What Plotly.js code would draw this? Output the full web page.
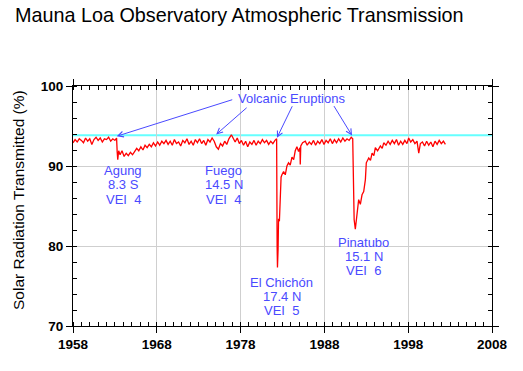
<!DOCTYPE html>
<html>
<head>
<meta charset="utf-8">
<script src="https://cdn.plot.ly/plotly-3.0.1.min.js"></script>
<style>html,body{margin:0;padding:0;background:#fff;}#chart{width:523px;height:371px;}</style>
</head>
<body>
<div id="chart"></div>
<script>
// ---- data ----
const years = [
1958.00,1958.25,1958.50,1958.75,1959.00,1959.25,1959.50,1959.75,1960.00,1960.25,1960.50,1960.75,
1961.00,1961.25,1961.50,1961.75,1962.00,1962.25,1962.50,1962.75,1963.00,1963.20,1963.27,1963.34,
1963.45,1963.62,1963.85,1964.10,1964.35,1964.60,1964.85,1965.10,1965.35,1965.60,1965.85,1966.10,
1966.35,1966.60,1966.85,1967.10,1967.35,1967.60,1967.85,1968.10,1968.35,1968.60,1968.85,1969.10,
1969.35,1969.60,1969.85,1970.10,1970.35,1970.60,1970.85,1971.10,1971.35,1971.60,1971.85,1972.10,
1972.35,1972.60,1972.85,1973.10,1973.35,1973.60,1973.85,1974.10,1974.35,1974.60,1974.85,1975.10,
1975.35,1975.60,1975.85,1976.10,1976.35,1976.60,1976.90,1977.10,1977.35,1977.60,1977.85,1978.10,
1978.35,1978.60,1978.85,1979.10,1979.35,1979.60,1979.85,1980.10,1980.35,1980.60,1980.85,1981.10,
1981.35,1981.60,1981.85,1982.10,1982.30,1982.36,1982.40,1982.47,1982.53,1982.63,1982.73,1982.83,
1982.93,1983.13,1983.33,1983.53,1983.72,1983.92,1984.13,1984.33,1984.52,1984.72,1984.92,1985.08,
1985.12,1985.18,1985.40,1985.72,1985.95,1986.20,1986.45,1986.70,1986.95,1987.20,1987.45,1987.70,
1987.95,1988.20,1988.45,1988.70,1988.95,1989.20,1989.45,1989.70,1989.95,1990.20,1990.45,1990.70,
1990.95,1991.20,1991.38,1991.45,1991.55,1991.69,1991.80,1991.90,1992.09,1992.29,1992.49,1992.69,
1992.89,1993.00,1993.29,1993.50,1993.69,1993.90,1994.08,1994.35,1994.68,1994.90,1995.08,1995.35,
1995.60,1995.85,1996.10,1996.35,1996.60,1996.85,1997.10,1997.35,1997.60,1997.85,1998.06,1998.30,
1998.55,1998.80,1999.05,1999.26,1999.45,1999.70,1999.95,2000.20,2000.45,2000.70,2000.95,2001.20,
2001.45,2001.70,2001.95,2002.20,2002.44
];
const transmission = [
92.9,93.3,93.0,93.4,93.2,92.9,93.5,93.1,93.4,92.7,93.3,93.6,
93.2,93.5,93.0,93.4,93.3,93.6,93.1,93.4,93.2,93.5,91.8,90.8,
91.9,91.4,91.9,91.2,91.6,91.3,91.7,91.4,91.8,92.2,91.9,92.4,
92.0,92.6,92.3,92.7,92.4,92.9,92.5,93.0,92.6,93.1,92.8,93.2,
92.7,93.1,92.6,93.3,92.8,93.0,92.5,93.2,92.9,93.4,92.7,93.1,
92.6,93.3,92.9,93.4,92.8,93.2,92.6,93.3,93.0,93.5,93.1,92.4,
92.1,92.8,92.5,93.1,92.7,93.4,93.9,93.4,93.0,93.5,92.8,93.2,
92.6,93.1,92.4,93.0,92.7,93.2,92.6,93.1,92.8,93.3,92.9,93.2,
92.7,93.1,92.8,93.2,93.4,79.8,77.3,79.5,83.4,83.1,87.6,88.6,
88.9,89.3,88.9,90.0,90.4,90.1,91.1,90.8,91.9,92.4,91.8,92.3,
90.2,92.5,92.9,93.1,92.6,93.0,92.7,93.2,92.6,93.1,92.8,93.3,
92.7,93.2,92.9,93.4,92.8,93.3,92.9,93.4,93.0,93.5,93.1,93.4,
93.2,93.6,93.4,88.3,83.3,82.1,83.0,84.2,85.8,85.2,86.4,86.8,
88.3,90.4,91.0,90.7,91.6,91.3,92.3,91.9,92.5,92.2,92.9,92.6,
93.1,92.7,93.2,92.8,93.3,92.6,93.1,92.7,93.2,92.8,93.5,93.0,
93.3,92.8,93.1,91.6,92.8,93.0,92.5,93.1,92.6,93.0,92.4,93.1,
92.7,93.2,92.8,93.1,92.7
];
const clearSkyLevel = 93.85;
const xTickYears = [1958, 1968, 1978, 1988, 1998, 2008];
const yTickValues = [70, 80, 90, 100];

const volcanoes = ["Agung", "Fuego", "El Chichón", "Pinatubo"];
const latitudes = ["8.3 S", "14.5 N", "17.4 N", "15.1 N"];
const vei = ["VEI\u00a0 4", "VEI\u00a0 4", "VEI\u00a0 5", "VEI\u00a0 6"];
const eruptionYears = [1963.22, 1975.08, 1982.34, 1991.30];

// ---- layout helpers (positions / styles) ----
const blue = "#4a4aff";
const fam = "Liberation Sans, Arial, sans-serif";
const headY = [93.72, 93.94, 93.53, 93.80];
const tailOffsets = [[117, -37], [32, -28], [16, -33], [-19, -31]];
const labelX = [1964.0, 1975.96, 1982.93, 1992.68];
const labelY = [[89.44, 87.63, 85.81], [89.44, 87.63, 85.81], [75.44, 73.69, 71.94], [80.50, 78.69, 76.88]];

const annotations = [];
annotations.push({
  xref: 'x', yref: 'y', x: 1958 + (291 - 73) / 8.37, y: 100 - (98.5 - 86) / 8,
  text: "Volcanic Eruptions", showarrow: false,
  font: {family: fam, size: 13, color: blue},
  xanchor: 'center', yanchor: 'middle'
});
for (let i = 0; i < volcanoes.length; i++) {
  annotations.push({
    xref: 'x', yref: 'y', x: eruptionYears[i], y: headY[i], text: "",
    showarrow: true, arrowhead: 5, arrowsize: 1.1, arrowwidth: 1, arrowcolor: blue,
    ax: tailOffsets[i][0], ay: tailOffsets[i][1], standoff: 0
  });
  const lines = [volcanoes[i], latitudes[i], vei[i]];
  for (let j = 0; j < 3; j++) {
    annotations.push({
      xref: 'x', yref: 'y', x: labelX[i], y: labelY[i][j], text: lines[j], showarrow: false,
      font: {family: fam, size: 13, color: blue},
      xanchor: 'center', yanchor: 'middle'
    });
  }
}
// y-axis title as rotated annotation
annotations.push({
  xref: 'paper', yref: 'paper', x: 0, y: (326 - 200) / 240, xshift: -55,
  text: "Solar Radiation Transmitted (%)", showarrow: false, textangle: -90,
  font: {family: fam, size: 15.5, color: "#000"},
  xanchor: 'center', yanchor: 'middle'
});

const traces = [{
  x: years, y: transmission, type: 'scatter', mode: 'lines',
  line: {color: '#ff0000', width: 1.3}, hoverinfo: 'skip'
}];

const tickFont = {family: fam, size: 13.5, color: '#000', weight: 'bold'};

const layout = {
  width: 523, height: 371,
  margin: {l: 73, r: 31, t: 86, b: 45, pad: 0},
  paper_bgcolor: '#fff', plot_bgcolor: '#fff',
  showlegend: false,
  font: {family: fam, color: '#000'},
  title: {
    text: "Mauna Loa Observatory Atmospheric Transmission",
    font: {family: fam, size: 19.8, color: '#000'},
    xref: 'container', yref: 'container', x: 15 / 523, xanchor: 'left',
    y: 1 - 15 / 371, yanchor: 'middle'
  },
  xaxis: {
    range: [1958, 2008], tickvals: xTickYears, ticktext: xTickYears.map(String),
    showgrid: true, gridcolor: '#cfcfcf', gridwidth: 1,
    showline: true, linecolor: '#000', linewidth: 1, mirror: 'allticks',
    ticks: 'outside', ticklen: 6, tickcolor: '#000',
    tickfont: tickFont,
    minor: {dtick: 1, tick0: 1958, ticks: 'inside', ticklen: 4, tickcolor: '#000', showgrid: false},
    zeroline: false, fixedrange: true
  },
  yaxis: {
    range: [70, 100], tickvals: yTickValues, ticktext: yTickValues.map(String),
    showgrid: true, gridcolor: '#cfcfcf', gridwidth: 1,
    showline: true, linecolor: '#000', linewidth: 1, mirror: 'allticks',
    ticks: 'outside', ticklen: 6, tickcolor: '#000',
    tickfont: tickFont,
    minor: {dtick: 2, tick0: 70, ticks: 'inside', ticklen: 4, tickcolor: '#000', showgrid: false},
    zeroline: false, fixedrange: true
  },
  shapes: [{
    type: 'line', xref: 'paper', yref: 'y', x0: 0, x1: 1, y0: clearSkyLevel, y1: clearSkyLevel,
    line: {color: '#66ffff', width: 2}, layer: 'below'
  }],
  annotations: annotations
};

Plotly.newPlot('chart', traces, layout, {staticPlot: true, displayModeBar: false});
</script>
</body>
</html>
